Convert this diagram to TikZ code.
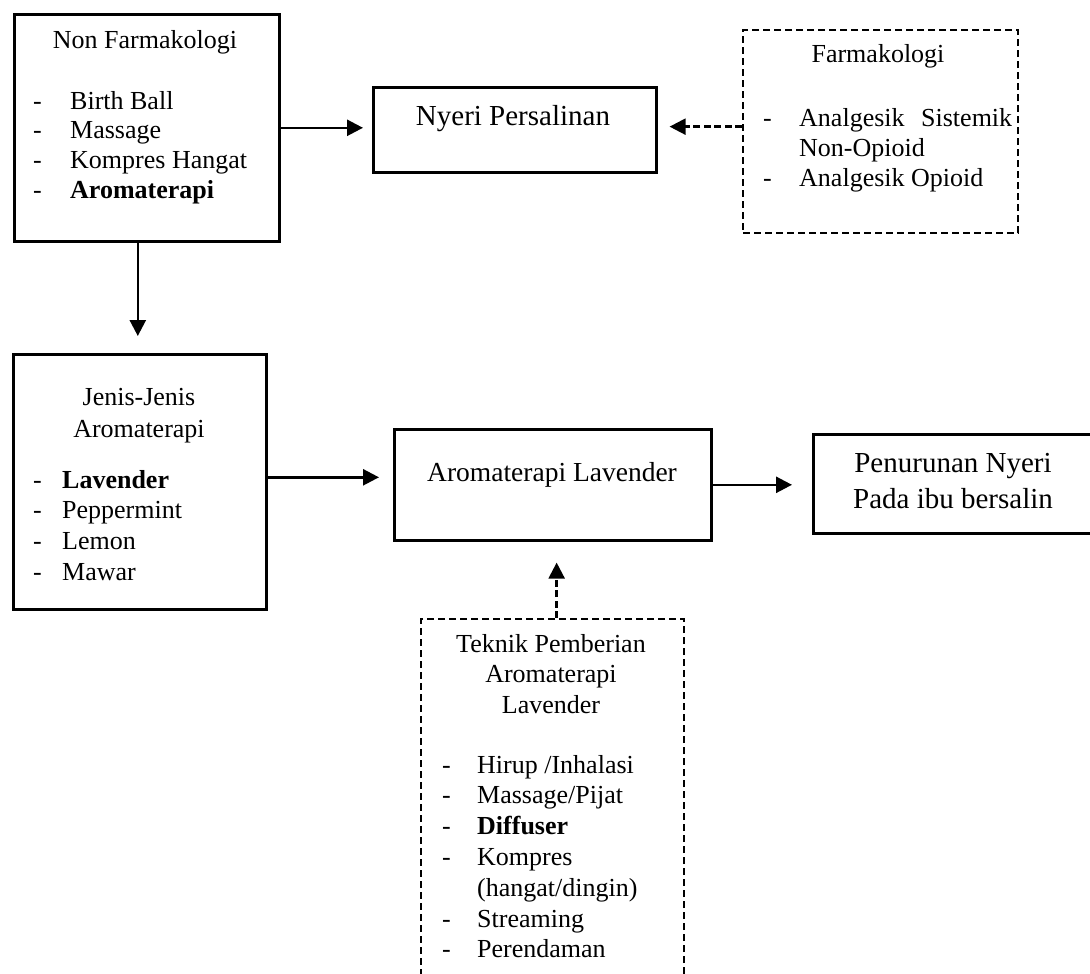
\documentclass[tikz,border=0pt]{standalone}
\usepackage{fontspec}
\setmainfont{Liberation Serif}
\usetikzlibrary{arrows.meta}
\tikzset{
  box/.style={draw, line width=2.6pt, anchor=north west, inner sep=0pt},
  dbox/.style={box, line width=2.3pt, dash pattern=on 7pt off 4pt},
  arr/.style={line width=2.6pt, -{Triangle[length=16pt,width=16pt]}},
  darr/.style={arr, line width=2.4pt, dash pattern=on 7pt off 3.5pt},
  txt/.style={anchor=base, inner sep=0pt, font=\fontsize{26}{30}\selectfont},
  big/.style={txt, font=\fontsize{29}{34}\selectfont},
  itm/.style={txt, anchor=base west},
}
\begin{document}
\begin{tikzpicture}[x=1pt, y=-1pt]
  \useasboundingbox (0,0) rectangle (1090,974);
  \clip (0,0) rectangle (1090,974);
  % boxes
  \node[box, minimum width=265pt, minimum height=227pt] (nf) at (13,13) {};
  \node[box, minimum width=283pt, minimum height=85pt] (nyeri) at (372,86) {};
  \node[dbox, minimum width=275pt, minimum height=203pt] (far) at (742,29) {};
  \node[box, minimum width=253pt, minimum height=255pt] (jenis) at (12,353) {};
  \node[box, minimum width=317pt, minimum height=111pt] (al) at (393,428) {};
  \node[box, minimum width=282pt, minimum height=99pt] (pen) at (812,433) {};
  \node[dbox, minimum width=263pt, minimum height=400pt] (teknik) at (420,618) {};
  % titles
  \node[big] (nyeri-t) at (513,125) {Nyeri Persalinan};
  \node[txt, font=\fontsize{27.5}{32}\selectfont] (al-t) at (552,481) {Aromaterapi Lavender};
  \node[big] (pen-t1) at (953,472) {Penurunan Nyeri};
  \node[big] (pen-t2) at (953,508) {Pada ibu bersalin};
  % headings: name / x / y / text
  \foreach \n/\x/\y/\t in {nf-h/145/49/Non Farmakologi, far-h/878/63/Farmakologi,
      jenis-h1/139/405/Jenis-Jenis, jenis-h2/139/437/Aromaterapi,
      teknik-h1/551/652/Teknik Pemberian, teknik-h2/551/682/Aromaterapi,
      teknik-h3/551/713/Lavender}
    \node[txt] (\n) at (\x,\y) {\t};
  % non farmakologi list
  \foreach \row/\item in {0/Birth Ball, 1/Massage, 2/Kompres Hangat, 3/{\textbf{Aromaterapi}}} {
    \node[itm] (nf-d\row) at (33,109+29.7*\row) {-};
    \node[itm] (nf-i\row) at (70,109+29.7*\row) {\item};
  }
  % farmakologi list
  \node[itm] (far-d0) at (763,126) {-};
  \node[itm] (far-i0) at (799,126) {\makebox[213pt][l]{Analgesik\hfill Sistemik}};
  \node[itm] (far-i1) at (799,156) {Non-Opioid};
  \node[itm] (far-d2) at (763,186) {-};
  \node[itm] (far-i2) at (799,186) {Analgesik Opioid};
  % jenis list
  \foreach \row/\item in {0/{\textbf{Lavender}}, 1/Peppermint, 2/Lemon, 3/Mawar} {
    \node[itm] (jenis-d\row) at (33,488+30.7*\row) {-};
    \node[itm] (jenis-i\row) at (62,488+30.7*\row) {\item};
  }
  % teknik list
  \foreach \row/\item in {0/{Hirup /Inhalasi}, 1/{Massage/Pijat}, 2/{\textbf{Diffuser}},
      3/Kompres, 5/Streaming, 6/Perendaman} {
    \node[itm] (teknik-d\row) at (442,773+30.8*\row) {-};
    \node[itm] (teknik-i\row) at (477,773+30.8*\row) {\item};
  }
  \node[itm] (teknik-i4) at (477,773+30.8*4) {(hangat/dingin)};
  % connectors
  \draw[arr, shorten >=9pt] (nf.east) -- (nf.east -| nyeri.west);
  \draw[darr, shorten >=12pt] ([yshift=5pt]far.west) -- ([yshift=5pt]far.west -| nyeri.east);
  \draw[arr, shorten >=17pt] ([xshift=-9pt]nf.south) -- ([xshift=-9pt]nf.south |- jenis.north);
  \draw[arr, shorten >=14pt] ([yshift=4.5pt]jenis.east) -- ([yshift=4.5pt]jenis.east -| al.west);
  \draw[arr, shorten >=20pt] (al.east) -- (al.east -| pen.west);
  \draw[darr, shorten >=21pt] ([xshift=4pt]teknik.north) -- ([xshift=4pt]teknik.north |- al.south);
\end{tikzpicture}
\end{document}
